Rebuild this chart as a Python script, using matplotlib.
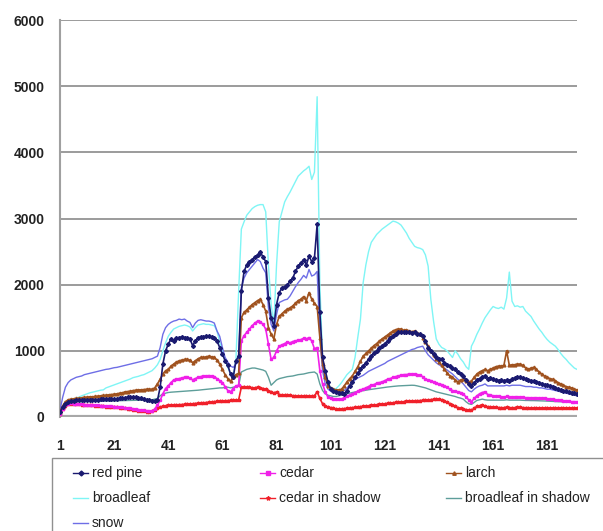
import matplotlib
matplotlib.use("Agg")
import matplotlib.pyplot as plt
from matplotlib.lines import Line2D
from matplotlib.patches import Rectangle
import numpy as np

plt.rcParams['font.family'] = ['Liberation Sans', 'DejaVu Sans']

# band index 1..192
bands = np.arange(1, 193)

red_pine = [
    70, 150, 200, 230, 240, 245, 250, 250, 255, 255,
    255, 260, 260, 260, 262, 265, 265, 268, 270, 270,
    270, 275, 280, 285, 290, 295, 300, 300, 295, 290,
    280, 270, 260, 250, 245, 240, 250, 450, 800, 1000,
    1100, 1180, 1150, 1190, 1200, 1210, 1200, 1190, 1180, 1080,
    1150, 1200, 1210, 1210, 1220, 1220, 1210, 1200, 1150, 1050,
    950, 850, 780, 650, 600, 850, 920, 1900, 2200, 2300,
    2350, 2380, 2420, 2450, 2490, 2420, 2350, 1800, 1500, 1370,
    1700, 1880, 1950, 1970, 2000, 2050, 2100, 2200, 2280, 2330,
    2380, 2300, 2430, 2350, 2400, 2910, 1580, 900, 700, 530,
    420, 400, 380, 370, 360, 350, 400, 470, 530, 600,
    660, 720, 770, 820, 870, 920, 960, 1000, 1040, 1070,
    1110, 1150, 1190, 1230, 1260, 1280, 1280, 1290, 1280, 1280,
    1270, 1280, 1260, 1250, 1230, 1150, 1050, 1000, 950, 900,
    870, 880, 820, 790, 770, 740, 720, 680, 650, 620,
    560, 500, 470, 520, 560, 580, 600, 620, 580, 590,
    570, 560, 550, 560, 540, 560, 550, 570, 590, 600,
    600, 590, 570, 560, 550, 540, 530, 520, 500, 490,
    480, 470, 460, 440, 420, 410, 400, 390, 380, 370,
    360, 350]

cedar = [
    40, 120, 180, 200, 205, 200, 195, 192, 190, 188,
    185, 182, 180, 178, 175, 172, 170, 168, 165, 160,
    158, 155, 150, 145, 140, 135, 130, 125, 118, 110,
    105, 100, 95, 92, 90, 120, 180, 250, 350, 430,
    470, 520, 560, 570, 580, 590, 600, 600, 590, 560,
    580, 600, 610, 620, 620, 625, 620, 610, 580, 550,
    520, 460, 400, 380, 430, 470, 480, 1150, 1230, 1280,
    1330, 1380, 1420, 1450, 1440, 1400, 1330, 1100, 870, 900,
    1000, 1070, 1090, 1110, 1130, 1120, 1140, 1150, 1160, 1170,
    1190, 1180, 1200, 1150, 1030, 1050, 700, 500, 380, 300,
    280, 270, 265, 265, 270, 290, 310, 330, 350, 370,
    390, 410, 420, 440, 460, 480, 490, 510, 520, 530,
    550, 570, 580, 600, 610, 620, 630, 640, 640, 650,
    650, 650, 640, 630, 610, 570, 560, 550, 530, 510,
    500, 490, 470, 450, 420, 400, 390, 380, 370, 350,
    300, 260, 230, 280, 320, 350, 370, 380, 340, 330,
    320, 310, 310, 300, 300, 310, 300, 300, 300, 300,
    300, 300, 290, 290, 290, 290, 285, 280, 280, 280,
    275, 270, 270, 260, 250, 250, 240, 240, 235, 230,
    230, 230]

larch = [
    90, 170, 230, 260, 270, 275, 280, 285, 290, 295,
    300, 305, 305, 310, 315, 320, 325, 330, 335, 340,
    345, 350, 360, 365, 380, 385, 390, 400, 405, 410,
    410, 415, 420, 420, 420, 440, 500, 570, 650, 700,
    720, 770, 800, 830, 850, 860, 870, 870, 860, 820,
    850, 880, 900, 900, 910, 920, 910, 900, 860, 800,
    720, 640, 580, 540, 600, 640, 660, 1500, 1580, 1620,
    1660, 1700, 1730, 1760, 1780, 1700, 1600, 1350, 1250, 1180,
    1400, 1520, 1560, 1600, 1630, 1650, 1680, 1720, 1760, 1780,
    1820, 1760, 1880, 1780, 1720, 1670, 1200, 800, 600, 470,
    440, 420, 410, 410, 420, 470, 530, 580, 620, 690,
    760, 840, 920, 960, 1000, 1040, 1080, 1110, 1150, 1180,
    1210, 1240, 1270, 1300, 1320, 1330, 1330, 1310, 1320, 1300,
    1290, 1300, 1270, 1250, 1200, 1130, 1070, 1000, 930, 880,
    830, 780, 720, 670, 620, 600, 560, 530, 560, 570,
    550, 530, 540, 600, 650, 680, 700, 720, 700, 720,
    740, 760, 770, 770, 780, 1000, 780, 790, 790, 800,
    800, 780, 740, 720, 740, 750, 720, 680, 650, 620,
    600, 580, 570, 550, 520, 500, 480, 460, 450, 440,
    420, 410]

broadleaf = [
    50, 150, 220, 250, 260, 270, 285, 300, 320, 335,
    350, 365, 375, 385, 395, 405, 410, 440, 455, 470,
    485, 500, 515, 530, 545, 560, 575, 595, 605, 615,
    630, 640, 660, 680, 700, 740, 790, 870, 1000, 1120,
    1220, 1280, 1330, 1350, 1370, 1380, 1390, 1380, 1360, 1300,
    1350, 1390, 1400, 1410, 1400, 1400, 1390, 1380, 1300, 1130,
    1000, 850, 750, 650, 620, 870, 1900, 2840, 2950, 3050,
    3100, 3150, 3180, 3200, 3210, 3210, 3100, 2300, 1700, 1400,
    2300, 2950, 3100, 3250, 3330, 3400, 3480, 3560, 3640, 3680,
    3720, 3750, 3790, 3590, 3700, 4840, 2000, 900, 600, 480,
    450, 420, 430, 470, 520, 580, 640, 680, 720, 900,
    1200, 1480, 2030, 2300, 2500, 2640, 2700, 2760, 2800, 2840,
    2870, 2900, 2930, 2960, 2950, 2930, 2900, 2840, 2780, 2700,
    2640, 2580, 2560, 2550, 2530, 2450, 2280, 1780, 1450, 1180,
    1100, 1050, 1030, 1000, 950, 900, 1000, 950, 880, 830,
    760, 720, 1070, 1150, 1250, 1330, 1420, 1500, 1560, 1620,
    1670, 1650, 1640, 1660, 1630, 1800, 2190, 1750, 1670, 1680,
    1660, 1670, 1600, 1560, 1520, 1450, 1390, 1330, 1280, 1220,
    1170, 1130, 1100, 1070, 1020, 960, 910, 870, 820, 780,
    740, 720]

cedar_shadow = [
    40, 120, 170, 190, 200, 195, 192, 190, 188, 185,
    182, 180, 176, 172, 168, 165, 162, 158, 155, 150,
    148, 145, 140, 135, 130, 125, 118, 110, 105, 98,
    92, 86, 82, 80, 90, 110, 130, 150, 160, 170,
    175, 178, 180, 183, 186, 188, 190, 194, 197, 200,
    202, 205, 210, 214, 218, 222, 226, 230, 235, 240,
    240, 245, 248, 250, 252, 255, 260, 450, 460, 450,
    450, 440, 440, 450, 440, 430, 420, 400, 380, 360,
    380, 340, 335, 330, 330, 325, 320, 320, 315, 315,
    310, 310, 310, 315, 320, 380, 280, 200, 160, 150,
    140, 130, 120, 120, 120, 125, 130, 135, 140, 145,
    150, 155, 160, 165, 170, 175, 180, 185, 190, 195,
    200, 205, 210, 215, 220, 225, 228, 232, 235, 238,
    240, 242, 245, 248, 250, 255, 258, 262, 266, 270,
    270, 260, 240, 220, 200, 180, 160, 140, 130, 120,
    110, 100, 100, 130, 160, 170, 180, 160, 150, 150,
    145, 145, 140, 140, 140, 150, 140, 140, 140, 145,
    145, 140, 140, 138, 138, 136, 136, 135, 135, 134,
    134, 133, 133, 132, 132, 131, 131, 130, 130, 130,
    130, 130]

broadleaf_shadow = [
    40, 140, 200, 220, 230, 230, 232, 233, 234, 235,
    236, 237, 238, 238, 239, 240, 240, 241, 242, 242,
    243, 244, 245, 246, 247, 248, 249, 250, 251, 252,
    253, 254, 256, 258, 260, 270, 280, 320, 350, 360,
    370, 375, 378, 380, 384, 388, 390, 394, 397, 400,
    402, 405, 410, 414, 418, 422, 426, 430, 435, 440,
    440, 450, 450, 440, 450, 460, 470, 680, 700, 720,
    730, 740, 740, 730, 720, 710, 690, 600, 480, 520,
    560, 580, 590, 600, 610, 615, 620, 630, 640, 645,
    650, 660, 670, 675, 680, 650, 500, 400, 350, 330,
    320, 310, 310, 320, 330, 340, 350, 360, 370, 378,
    385, 392, 400, 406, 412, 418, 424, 430, 436, 442,
    448, 453, 458, 462, 466, 470, 472, 474, 476, 478,
    480, 478, 470, 460, 450, 440, 425, 410, 395, 380,
    370, 360, 350, 340, 330, 320, 310, 295, 285, 270,
    230, 200, 190, 220, 250, 260, 270, 260, 255, 255,
    255, 255, 255, 255, 255, 260, 255, 255, 255, 255,
    255, 252, 250, 250, 248, 248, 246, 245, 244, 242,
    240, 238, 236, 234, 232, 230, 228, 226, 224, 222,
    220, 220]

snow = [
    100, 300, 450, 520, 560, 580, 600, 610, 620, 640,
    650, 660, 670, 680, 690, 700, 710, 720, 725, 735,
    745, 750, 760, 770, 780, 790, 800, 810, 820, 830,
    840, 850, 860, 870, 880, 900, 920, 1050, 1250, 1350,
    1400, 1430, 1450, 1460, 1480, 1470, 1480, 1450, 1430, 1350,
    1420, 1460, 1470, 1460, 1450, 1450, 1440, 1420, 1300, 1220,
    1050, 900, 830, 770, 750, 800, 850, 1950, 2100, 2180,
    2230, 2280, 2330, 2380, 2350, 2250, 2180, 1650, 1400, 1300,
    1550, 1730, 1750, 1770, 1780, 1830, 1900, 1970, 2030, 2080,
    2140, 2100, 2230, 2130, 2150, 2200, 1200, 700, 500, 420,
    390, 380, 370, 370, 380, 400, 440, 480, 520, 560,
    590, 610, 630, 660, 690, 710, 730, 750, 770, 790,
    810, 840, 860, 880, 900, 920, 940, 960, 980, 1000,
    1020, 1030, 1050, 1060, 1070, 1000, 940, 900, 860, 820,
    790, 770, 740, 710, 680, 650, 610, 570, 540, 500,
    450, 400, 380, 420, 450, 470, 480, 500, 470, 470,
    470, 470, 470, 470, 470, 480, 470, 480, 480, 480,
    480, 470, 460, 460, 460, 450, 450, 440, 440, 430,
    420, 420, 410, 400, 390, 380, 370, 360, 350, 340,
    330, 320]

x_ticks = [1, 21, 41, 61, 81, 101, 121, 141, 161, 181]
y_ticks = [0, 1000, 2000, 3000, 4000, 5000, 6000]

W, H = 603, 531
fig = plt.figure(figsize=(W / 100, H / 100), dpi=100)
ax = fig.add_axes([60 / W, 1 - 417 / H, 517 / W, 397 / H])

styles = {
    'red pine':            dict(color='#1A1A70', lw=1.2, marker='D', ms=2),
    'cedar':               dict(color='#F020E8', lw=1.2, marker='s', ms=2),
    'larch':               dict(color='#A0521E', lw=1.2, marker='^', ms=2),
    'broadleaf':           dict(color='#7FF5F5', lw=1.0),
    'cedar in shadow':     dict(color='#F0202A', lw=1.2, marker='*', ms=2.5),
    'broadleaf in shadow': dict(color='#5E9E9A', lw=1.0),
    'snow':                dict(color='#6E6EE6', lw=1.0),
}

# drawn back to front
ax.plot(bands, broadleaf, zorder=2, **styles['broadleaf'])
ax.plot(bands, broadleaf_shadow, zorder=3, **styles['broadleaf in shadow'])
ax.plot(bands, snow, zorder=3, **styles['snow'])
ax.plot(bands, cedar_shadow, zorder=4, **styles['cedar in shadow'])
ax.plot(bands, cedar, zorder=4, **styles['cedar'])
ax.plot(bands, larch, zorder=4, **styles['larch'])
ax.plot(bands, red_pine, zorder=5, **styles['red pine'])

ax.set_xlim(1, 192)
ax.set_ylim(0, 6000)
ax.set_xticks(x_ticks)
ax.set_yticks(y_ticks)
ax.tick_params(axis='both', length=0, labelsize=10)
ax.tick_params(axis='x', pad=16)
ax.tick_params(axis='y', pad=11)
for lbl in ax.get_xticklabels() + ax.get_yticklabels():
    lbl.set_fontweight('bold')
    lbl.set_color('#222222')
ax.yaxis.grid(True, color='#8A8A8A', lw=1.2)
ax.set_axisbelow(True)
for s in ['top', 'right', 'bottom']:
    ax.spines[s].set_visible(False)
ax.spines['left'].set_color('#A0A0A0')
ax.spines['left'].set_linewidth(1.5)
ax.axhline(0, color='#A8A8A8', lw=3, zorder=1)

# legend box, laid out row by row like the original
fig.add_artist(Rectangle((52 / W, 1 - 545 / H), 560 / W, 87 / H, transform=fig.transFigure,
                         facecolor='white', edgecolor='#909090', lw=1.0))
legend_rows = [['red pine', 'cedar', 'larch'],
               ['broadleaf', 'cedar in shadow', 'broadleaf in shadow'],
               ['snow']]
col_x = [73, 260, 446]
row_y = [473, 498, 523]
for r, row in enumerate(legend_rows):
    for c, name in enumerate(row):
        x0, y0 = col_x[c], row_y[r]
        st = dict(styles[name])
        ms = st.pop('ms', 0)
        mk = st.pop('marker', None)
        fig.add_artist(Line2D([x0 / W, (x0 + 15) / W], [1 - y0 / H] * 2, transform=fig.transFigure,
                              color=st['color'], lw=1.0))
        if mk:
            fig.add_artist(Line2D([(x0 + 7.5) / W], [1 - y0 / H], transform=fig.transFigure,
                                  color=st['color'], marker=mk, ms=ms + 0.5, lw=0))
        fig.text((x0 + 19) / W, 1 - y0 / H, name, fontsize=10, va='center', ha='left', color='#222222')

fig.savefig('out.png', dpi=100)
